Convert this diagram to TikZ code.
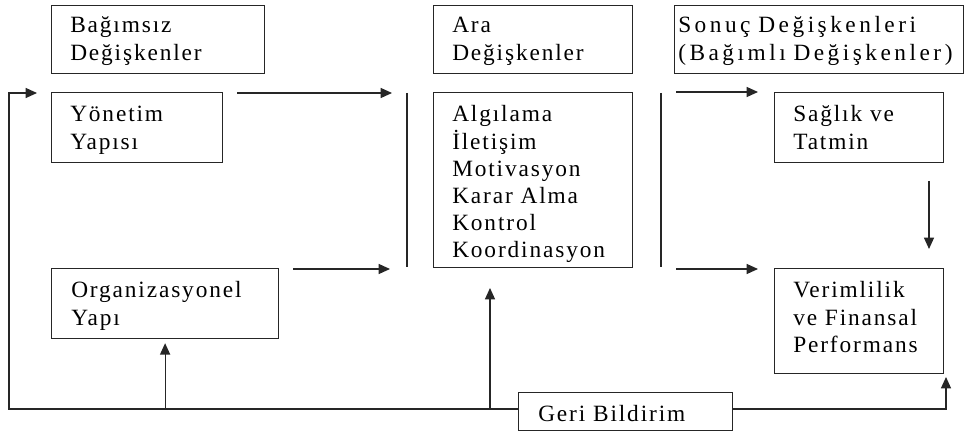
\documentclass[tikz,border=0pt]{standalone}
\usepackage{fontspec}
\setmainfont{Liberation Serif}[LetterSpace=8]
\usetikzlibrary{arrows.meta}

\begin{document}
\begin{tikzpicture}[x=0.75pt,y=-0.75pt,
  box/.style={draw=black!85, line width=0.9pt, rectangle, anchor=north west,
    inner sep=0pt},
  txt/.style={anchor=base west, inner sep=0pt, align=left, text width=#1,
    font=\fontsize{17.5}{20.3}\selectfont},
  txt/.default=150pt,
  wide/.style={font=\fontsize{17.5}{20.3}\selectfont\addfontfeatures{LetterSpace=15}},
  link/.style={draw=black!85, line width=0.9pt},
  arr/.style={link, -{Triangle[length=8.5pt,width=7.5pt]}}
]
% canvas
\fill[white] (0,0) rectangle (964,434);
\useasboundingbox (0,0) rectangle (964,434);

% frames
\node[box, minimum width=159.75pt, minimum height=51pt]   (indep) at (51,5) {};
\node[box, minimum width=149.25pt, minimum height=51pt]   (ara)   at (433,5) {};
\node[box, minimum width=216.75pt, minimum height=51pt]   (sonuc) at (674,5) {};
\node[box, minimum width=128.25pt, minimum height=52.5pt] (yon)   at (51,92) {};
\node[box, minimum width=170.25pt, minimum height=52.5pt] (org)   at (51,268) {};
\node[box, minimum width=149.25pt, minimum height=131.25pt] (alg) at (433,92) {};
\node[box, minimum width=126.75pt, minimum height=52.5pt] (sag)   at (774,92) {};
\node[box, minimum width=126.75pt, minimum height=78.75pt] (ver)  at (774,268) {};
\node[box, minimum width=160.5pt, minimum height=28.5pt]  (geri)  at (518,392) {};

% texts (first baseline below the frame's top edge)
\node[txt] (indep-t) at ([shift={(19,28)}]indep.north west) {Bağımsız\\Değişkenler};
\node[txt] (ara-t)   at ([shift={(19,28)}]ara.north west)   {Ara\\Değişkenler};
\node[txt=225pt, wide] (sonuc-t) at ([shift={(4,28)}]sonuc.north west)
  {Sonuç Değişkenleri\\(Bağımlı Değişkenler)};
\node[txt] (yon-t)   at ([shift={(19,30)}]yon.north west)   {Yönetim\\Yapısı};
\node[txt] (org-t)   at ([shift={(20,30)}]org.north west)   {Organizasyonel\\Yapı};
\node[txt] (alg-t)   at ([shift={(19,30)}]alg.north west)
  {Algılama\\İletişim\\Motivasyon\\Karar Alma\\Kontrol\\Koordinasyon};
\node[txt] (sag-t)   at ([shift={(19,30)}]sag.north west)   {Sağlık ve\\Tatmin};
\node[txt] (ver-t)   at ([shift={(19,30)}]ver.north west)   {Verimlilik\\ve Finansal\\Performans};
\node[txt] (geri-t)  at ([shift={(20,30)}]geri.north west)  {Geri Bildirim};

% connector end points
\coordinate (fbL)    at (9,409);
\coordinate (fbTop)  at (9,93);
\coordinate (fbTip)  at (37,93);
\coordinate (fbR)    at (946,409);
\coordinate (fbRtip) at (946,377);
\coordinate (algUp)  at (490,288);
\coordinate (yonOut) at (237,93);
\coordinate (yonIn)  at (392,93);
\coordinate (orgOut) at (293,269);
\coordinate (orgIn)  at (390,269);
\coordinate (barA1)  at (407,93);
\coordinate (barA2)  at (407,267);
\coordinate (barB1)  at (661,93);
\coordinate (barB2)  at (661,267);
\coordinate (topOut) at (676,92);
\coordinate (topIn)  at (758,92);
\coordinate (botOut) at (676,269);
\coordinate (botIn)  at (758,269);
\coordinate (sagOut) at (929,181);
\coordinate (verIn)  at (929,249);

% feedback loop
\draw[arr] (geri.west |- fbL) -- (fbL) -- (fbTop) -- (fbTip);
\draw[arr] (geri.east |- fbL) -- (fbR) -- (fbRtip);
\draw[arr] (org.south |- fbL) -- ([yshift=-3pt]org.south);
\draw[arr] (algUp |- fbL) -- (algUp);

% forward flow
\draw[arr] (yonOut) -- (yonIn);
\draw[arr] (orgOut) -- (orgIn);
\draw[link] (barA1) -- (barA2);
\draw[link] (barB1) -- (barB2);
\draw[arr] (topOut) -- (topIn);
\draw[arr] (botOut) -- (botIn);
\draw[arr] (sagOut) -- (verIn);
\end{tikzpicture}
\end{document}
